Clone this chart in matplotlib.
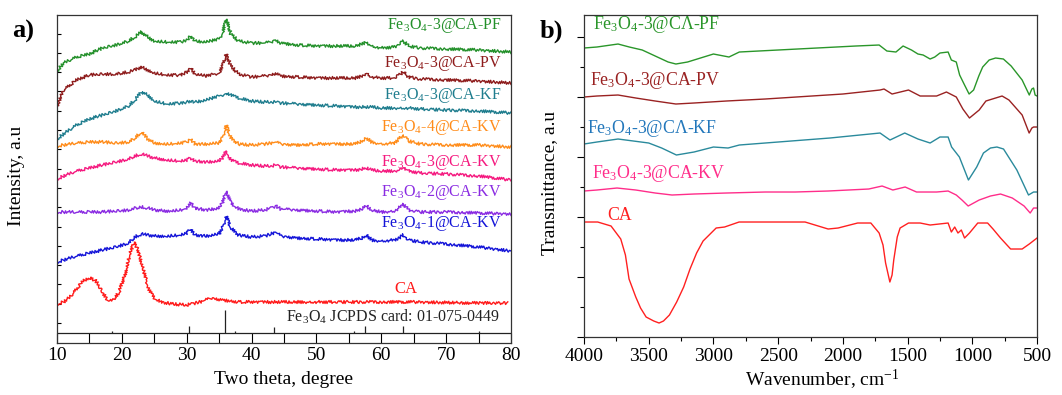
import matplotlib
matplotlib.use('Agg')
import matplotlib.pyplot as plt
import numpy as np
from matplotlib.ticker import MultipleLocator

plt.rcParams['font.family'] = 'Liberation Serif'
plt.rcParams['mathtext.fontset'] = 'custom'
plt.rcParams['mathtext.rm'] = 'Liberation Serif'
plt.rcParams['mathtext.it'] = 'Liberation Serif:italic'
plt.rcParams['mathtext.bf'] = 'Liberation Serif:bold'

# ---- a) XRD, stacked intensities in a.u. ----
two_theta = [10, 11, 13, 15, 17, 19, 21, 22, 23, 24, 25, 27, 29, 30, 30.6, 31.3, 33, 35, 35.5, 36.1,
             36.8, 38, 40, 42, 43, 43.7, 44.5, 47, 50, 53, 56, 57, 57.7, 58.5, 60, 62, 62.7, 63.4, 64.2, 66,
             70, 75, 80]
xrd_pf = [272, 280, 286, 289, 295, 298, 302, 306, 311, 306, 302, 301, 301, 303, 307, 302, 301, 304, 310, 324,
          309, 302, 300, 300, 301, 303, 300, 298, 297, 297, 297, 299, 301, 297, 295, 296, 299, 302, 297, 295,
          294, 293, 291]
xrd_pv = [237, 253, 263, 268, 269, 269, 271, 273, 276, 273, 270, 268, 268, 271, 275, 269, 267, 270, 277, 289,
          277, 269, 266, 267, 268, 270, 267, 266, 265, 265, 265, 267, 270, 266, 265, 265, 268, 271, 266, 264,
          263, 262, 260]
xrd_kf = [204, 209, 218, 224, 228, 232, 237, 243, 251, 248, 242, 239, 240, 241, 242, 241, 243, 247, 248, 250,
          248, 245, 242, 241, 241, 241, 240, 239, 238, 237, 236, 236, 236, 236, 235, 235, 235, 235, 235, 234,
          233, 232, 230]
xrd_kv4 = [197, 198, 200, 201, 201, 200, 201, 205, 211, 204, 200, 199, 200, 201, 204, 199, 199, 200, 205, 218,
           205, 199, 198, 199, 200, 201, 199, 198, 199, 199, 199, 202, 205, 201, 199, 200, 204, 208, 202, 199,
           198, 198, 196]
xrd_kv3 = [164, 167, 172, 175, 178, 181, 184, 187, 189, 187, 185, 183, 182, 183, 185, 182, 181, 182, 185, 192,
           183, 180, 178, 177, 177, 178, 176, 175, 174, 173, 173, 174, 175, 173, 172, 172, 173, 176, 172, 170,
           169, 167, 163]
xrd_kv2 = [131, 131, 131, 131, 131, 132, 133, 135, 136, 135, 133, 132, 133, 135, 140, 135, 133, 135, 140, 152,
           140, 134, 132, 133, 135, 137, 134, 133, 132, 131, 132, 134, 137, 133, 131, 132, 135, 139, 133, 131,
           131, 130, 129]
xrd_kv1 = [81, 83, 87, 90, 93, 96, 100, 106, 109, 108, 107, 107, 108, 110, 114, 108, 107, 109, 115, 127,
           115, 108, 106, 107, 109, 111, 107, 105, 104, 103, 103, 105, 108, 103, 102, 103, 105, 108, 103, 101,
           99, 96, 92]
ca_theta = [10, 11, 12, 13, 14, 15, 16, 17, 17.8, 18.6, 19.5, 20.5, 21.3, 21.9, 22.5, 23.3, 24.2, 25, 26, 28,
            30, 32, 33.8, 35.5, 38, 45, 55, 65, 75, 79.5]
xrd_ca = [39, 41, 46, 54, 62, 65, 62, 51, 43, 43, 50, 69, 91, 101, 93, 73, 53, 45, 41, 39,
          38, 41, 45, 43, 41, 41, 41, 41, 40, 40]
jcpds_pos = [18.4, 30.4, 35.9, 37.5, 43.5, 55.8, 57.5, 63.3, 75.0]
jcpds_hgt = [2, 7, 23, 2, 6, 2, 7, 7, 2]
jcpds_base = 10

xrd_names = ['Fe$_3$O$_4$-3@CA-PF', 'Fe$_3$O$_4$-3@CA-PV', 'Fe$_3$O$_4$-3@CA-KF', 'Fe$_3$O$_4$-4@CA-KV',
             'Fe$_3$O$_4$-3@CA-KV', 'Fe$_3$O$_4$-2@CA-KV', 'Fe$_3$O$_4$-1@CA-KV']
xrd_series = [xrd_pf, xrd_pv, xrd_kf, xrd_kv4, xrd_kv3, xrd_kv2, xrd_kv1]
xrd_colors = ['#23902a', '#8e1c1c', '#1f7d8e', '#ff8c1a', '#f5197f', '#8a2be2', '#1414d8']
xrd_label_y = [318, 280, 248, 216, 181, 151, 120]

# ---- b) FTIR, stacked transmittance in a.u. ----
w_pf = [4000, 3900, 3737, 3650, 3550, 3450, 3350, 3290, 3200, 3100, 3000, 2920, 2880, 2800, 2500, 2200, 1900,
        1720, 1660, 1590, 1535, 1470, 1420, 1380, 1326, 1290, 1250, 1187, 1162, 1124, 1098, 1060, 1025, 990,
        950, 920, 870, 820, 760, 700, 615, 560, 540, 527, 515, 500]
t_pf = [289, 290, 293, 290, 287, 281, 275, 273, 275, 279, 283, 281, 280, 285, 287, 289, 291,
        292, 286, 285, 291, 287, 283, 282, 278, 280, 284, 285, 277, 275, 262, 252, 243, 247,
        261, 270, 277, 279, 278, 271, 257, 242, 248, 249, 242, 241]
w_pv = [4000, 3900, 3737, 3600, 3450, 3290, 3150, 2900, 2600, 2360, 2000, 1713, 1682, 1620, 1493, 1403, 1276,
        1200, 1124, 1073, 1022, 947, 895, 770, 717, 615, 561, 540, 527, 500]
t_pv = [240, 241, 242, 239, 236, 233, 234, 236, 238, 240, 243, 247, 248, 243, 247, 241, 241,
        245, 240, 228, 219, 227, 236, 241, 237, 222, 204, 209, 210, 210]
w_kf = [4000, 3900, 3737, 3500, 3400, 3286, 3150, 3000, 2887, 2800, 2500, 2100, 1713, 1636, 1522, 1420, 1326,
        1250, 1187, 1160, 1100, 1030, 966, 914, 860, 810, 759, 656, 566, 527, 500]
t_kf = [193, 195, 198, 194, 189, 182, 185, 190, 189, 192, 195, 199, 204, 197, 204, 198, 194,
        200, 200, 190, 180, 157, 170, 184, 189, 190, 188, 167, 142, 145, 145]
w_kv = [4000, 3900, 3745, 3600, 3450, 3320, 3150, 2900, 2600, 2369, 2114, 1800, 1697, 1614, 1519, 1431, 1276,
        1187, 1124, 1080, 1032, 947, 860, 782, 691, 600, 553, 527, 500]
t_kv = [146, 147, 149, 147, 144, 142, 143, 144, 145, 145, 146, 148, 151, 147, 150, 145, 145,
        146, 142, 137, 131, 137, 141, 143, 139, 131, 124, 129, 129]
w_ca = [4000, 3894, 3791, 3716, 3680, 3652, 3600, 3563, 3520, 3461, 3420, 3386, 3340, 3284, 3230, 3181, 3130,
        3080, 2979, 2914, 2802, 2500, 2292, 2114, 2037, 1886, 1784, 1720, 1690, 1670, 1637, 1620, 1607, 1580,
        1558, 1493, 1403, 1326, 1187, 1162, 1136, 1111, 1085, 1060, 1022, 958, 882, 840, 782, 704, 615, 560,
        500]
t_ca = [115, 115, 111, 98, 82, 58, 40, 29, 20, 16, 14, 16, 22, 35, 50, 68, 84,
        96, 109, 110, 115, 115, 115, 108, 109, 114, 114, 104, 92, 74, 55, 62, 77, 100,
        109, 114, 114, 112, 114, 105, 110, 104, 107, 99, 104, 114, 114, 108, 99, 88, 88, 93,
        99]

ftir_names = ['Fe$_3$O$_4$-3@C\u039b-PF', 'Fe$_3$O$_4$-3@CA-PV', 'Fe$_3$O$_4$-3@C\u039b-KF',
              'Fe$_3$O$_4$-3@CA-KV', 'CA']
ftir_w = [w_pf, w_pv, w_kf, w_kv, w_ca]
ftir_t = [t_pf, t_pv, t_kf, t_kv, t_ca]
ftir_colors = ['#2a962a', '#9a2222', '#2a8a9c', '#ff2d8a', '#ff2020']
ftir_label_colors = ['#2a962a', '#9a2222', '#2277bb', '#ff2d8a', '#ff2020']
ftir_label_w = [3930, 3954, 3977, 3938, 3822]
ftir_label_y = [313, 257, 209, 164, 122]

fig = plt.figure(figsize=(10.62, 3.95), dpi=100)
ax1 = fig.add_axes([0.0537, 0.1316, 0.4275, 0.8304])
ax2 = fig.add_axes([0.5499, 0.1468, 0.4266, 0.8152])

# left panel
for ys, c, name, ly in zip(xrd_series, xrd_colors, xrd_names, xrd_label_y):
    ln, = ax1.plot(two_theta, ys, color=c, lw=1.0)
    ln.set_sketch_params(1.5, 2.5, 2)
    ax1.text(78.5, ly, name, color=c, fontsize=11.5, ha='right', va='center')
ln, = ax1.plot(ca_theta, xrd_ca, color='#ff1a1a', lw=1.0)
ln.set_sketch_params(1.5, 2.5, 2)
ax1.text(63.8, 54, 'CA', color='#ff1a1a', fontsize=12, ha='center', va='center')

ax1.axhline(jcpds_base, color='#222222', lw=0.9)
ax1.vlines(jcpds_pos, jcpds_base, [jcpds_base + h for h in jcpds_hgt], color='#222222', lw=0.9)
ax1.text(78.3, 26, 'Fe$_3$O$_4$ JCPDS card: 01-075-0449', color='#222222', fontsize=11.5,
         ha='right', va='center')

ax1.set_xlim(10, 80)
ax1.set_ylim(0, 328)
ax1.set_xticks(range(10, 81, 10))
ax1.xaxis.set_minor_locator(MultipleLocator(5))
ax1.set_yticks(np.arange(20, 320, 19.3))
ax1.set_yticklabels([])
ax1.tick_params(axis='x', which='both', direction='in', length=7, width=0.8, labelsize=14, pad=3)
ax1.tick_params(axis='y', which='both', direction='in', length=3, width=0.8)
ax1.set_xlabel('Two theta, degree', fontsize=14)
ax1.xaxis.set_label_coords(0.498, -0.085)
ax1.set_ylabel('Intensity, a.u', fontsize=14)
ax1.yaxis.set_label_coords(-0.07, 0.51)

# right panel
for w, t, c, lc, name, lw_, ly in zip(ftir_w, ftir_t, ftir_colors, ftir_label_colors, ftir_names,
                                      ftir_label_w, ftir_label_y):
    ax2.plot(w, t, color=c, lw=1.0)
    ax2.text(lw_, ly, name, color=lc, fontsize=12.8, ha='left', va='center')

ax2.set_xlim(4000, 500)
ax2.set_ylim(0, 322)
ax2.set_xticks(range(4000, 499, -500))
ax2.xaxis.set_minor_locator(MultipleLocator(250))
ax2.set_yticks(range(0, 301, 60))
ax2.set_yticks(range(30, 300, 60), minor=True)
ax2.set_yticklabels([])
ax2.tick_params(axis='x', which='major', direction='out', length=5, width=0.8, labelsize=14, pad=3)
ax2.tick_params(axis='x', which='minor', direction='out', length=3, width=0.8)
ax2.tick_params(axis='y', which='major', direction='out', length=5, width=0.8)
ax2.tick_params(axis='y', which='minor', direction='out', length=3, width=0.8)
ax2.set_xlabel('Wavenumber, cm$^{-1}$', fontsize=14)
ax2.xaxis.set_label_coords(0.525, -0.095)
ax2.set_ylabel('Transmittance, a.u', fontsize=14)
ax2.yaxis.set_label_coords(-0.057, 0.478)

for ax in (ax1, ax2):
    for sp in ax.spines.values():
        sp.set_color('#333333')
        sp.set_linewidth(0.9)

fig.text(0.011, 0.92, 'a)', fontsize=19, fontweight='bold', va='center')
fig.text(0.508, 0.92, 'b)', fontsize=19, fontweight='bold', va='center')

fig.savefig('out.png', dpi=100)
